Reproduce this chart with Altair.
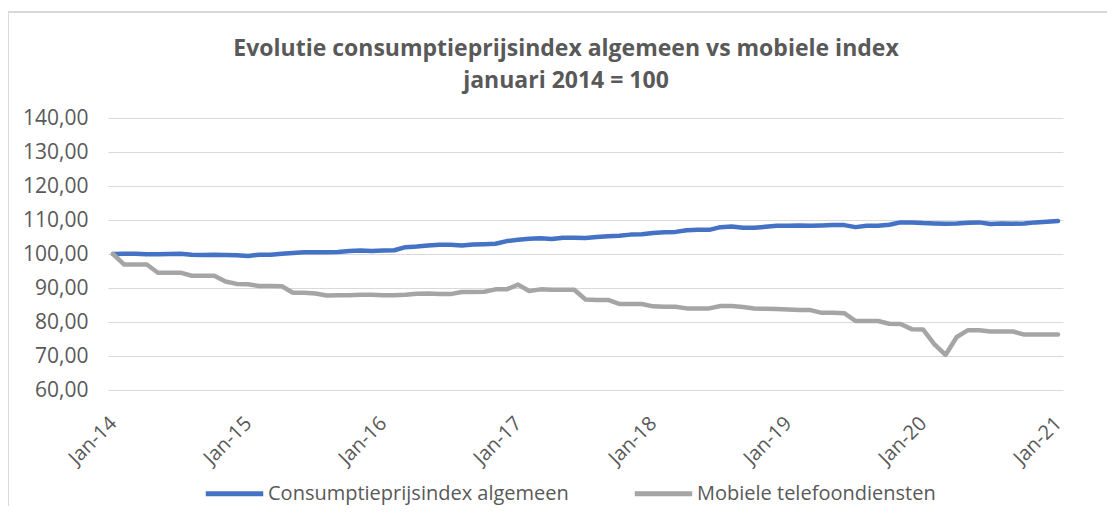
import altair as alt
import pandas as pd

# month index 0 = Jan-14 ... 84 = Jan-21
cpi = [100.0, 100.1, 100.1, 99.9, 99.9, 100.0, 100.1, 99.8, 99.7, 99.8,
       99.7, 99.6, 99.4, 99.8, 99.8, 100.1, 100.3, 100.5, 100.5, 100.5,
       100.6, 100.9, 101.0, 100.9, 101.0, 101.1, 102.0, 102.2, 102.5, 102.7,
       102.7, 102.5, 102.8, 102.9, 103.0, 103.8, 104.2, 104.5, 104.6, 104.4,
       104.8, 104.8, 104.7, 105.0, 105.2, 105.4, 105.7, 105.8, 106.2, 106.4,
       106.5, 107.0, 107.1, 107.1, 107.9, 108.1, 107.7, 107.7, 108.0, 108.3,
       108.3, 108.4, 108.3, 108.4, 108.5, 108.5, 107.9, 108.3, 108.3, 108.6,
       109.3, 109.3, 109.1, 109.0, 108.9, 109.0, 109.2, 109.3, 108.8, 109.0,
       108.9, 109.0, 109.3, 109.5, 109.7]

mobile = [100.0, 96.9, 96.9, 96.9, 94.5, 94.5, 94.5, 93.6, 93.6, 93.6,
          91.9, 91.2, 91.1, 90.6, 90.6, 90.5, 88.6, 88.6, 88.4, 87.8,
          87.9, 87.9, 88.0, 88.0, 87.9, 87.9, 88.0, 88.3, 88.4, 88.2,
          88.2, 88.8, 88.8, 88.9, 89.6, 89.6, 91.0, 89.1, 89.6, 89.5,
          89.5, 89.5, 86.6, 86.5, 86.5, 85.3, 85.3, 85.3, 84.6, 84.5,
          84.5, 84.0, 84.0, 84.0, 84.7, 84.7, 84.4, 84.0, 83.9, 83.8,
          83.7, 83.5, 83.5, 82.7, 82.7, 82.6, 80.3, 80.3, 80.3, 79.5,
          79.4, 77.9, 77.8, 73.5, 70.3, 75.6, 77.6, 77.6, 77.2, 77.2,
          77.2, 76.3, 76.3, 76.3, 76.3]

series_names = ["Consumptieprijsindex algemeen", "Mobiele telefoondiensten"]
series_colors = ["#4472C4", "#A5A5A5"]
tick_months = [0, 12, 24, 36, 48, 60, 72, 84]
y_ticks = [60, 70, 80, 90, 100, 110, 120, 130, 140]
title_lines = ["Evolutie consumptieprijsindex algemeen vs mobiele index", "januari 2014 = 100"]

rows = []
for i, v in enumerate(cpi):
    rows.append({"m": i, "value": v, "reeks": series_names[0]})
for i, v in enumerate(mobile):
    rows.append({"m": i, "value": v, "reeks": series_names[1]})
df = pd.DataFrame(rows)

FONT = "Open Sans"
TXT = "#595959"

lines = alt.Chart(df).mark_line(strokeWidth=4.5, strokeJoin="round", strokeCap="round").encode(
    x=alt.X("m:Q",
            scale=alt.Scale(domain=[0, 84], padding=5, nice=False, zero=False),
            axis=alt.Axis(values=tick_months, title=None, grid=False, domain=False, ticks=False,
                          labelAngle=-45, labelAlign="right", labelBaseline="middle",
                          labelPadding=30, labelFont=FONT, labelFontSize=20, labelColor=TXT,
                          labelExpr="'Jan-' + (14 + datum.value / 12)")),
    y=alt.Y("value:Q",
            scale=alt.Scale(domain=[60, 140], nice=False, zero=False),
            axis=alt.Axis(values=y_ticks, title=None, domain=False, ticks=False,
                          gridColor="#D9D9D9", gridWidth=1.2, labelPadding=20,
                          labelFont=FONT, labelFontSize=21, labelColor=TXT,
                          labelExpr="replace(format(datum.value, '.2f'), '.', ',')")),
    color=alt.Color("reeks:N",
                    scale=alt.Scale(domain=series_names, range=series_colors),
                    legend=alt.Legend(title=None, orient="none", direction="horizontal",
                                      legendX=95, legendY=344,
                                      symbolType="stroke", symbolStrokeWidth=5,
                                      symbolSize=3300, labelOffset=2, columnPadding=55,
                                      labelLimit=500,
                                      labelFont=FONT, labelFontSize=20, labelColor=TXT)),
    order="m:Q",
)

one = alt.Data(values=[{"a": 1}])
border = alt.Chart(one).mark_rule(color="#D9D9D9", strokeWidth=2).encode(
    x=alt.value(-100), y=alt.value(-106), y2=alt.value(400)
)
border_top = alt.Chart(one).mark_rule(color="#D9D9D9", strokeWidth=2).encode(
    x=alt.value(-100), x2=alt.value(1010), y=alt.value(-106)
)
title1 = alt.Chart(one).mark_text(font=FONT, fontSize=23, fontWeight="bold", color=TXT,
                                  align="center", baseline="alphabetic").encode(
    x=alt.value(458), y=alt.value(-62), text=alt.value(title_lines[0])
)
title2 = alt.Chart(one).mark_text(font=FONT, fontSize=23, fontWeight="bold", color=TXT,
                                  align="center", baseline="alphabetic").encode(
    x=alt.value(458), y=alt.value(-30), text=alt.value(title_lines[1])
)

chart = alt.layer(border, border_top, title1, title2, lines).properties(
    width=955, height=272,
    autosize=alt.AutoSizeParams(type="none"),
    padding={"left": 100, "top": 110, "right": 44, "bottom": 116},
).configure_view(stroke=None)

chart.save("out.html", embed_options={"renderer": "svg", "actions": False})
